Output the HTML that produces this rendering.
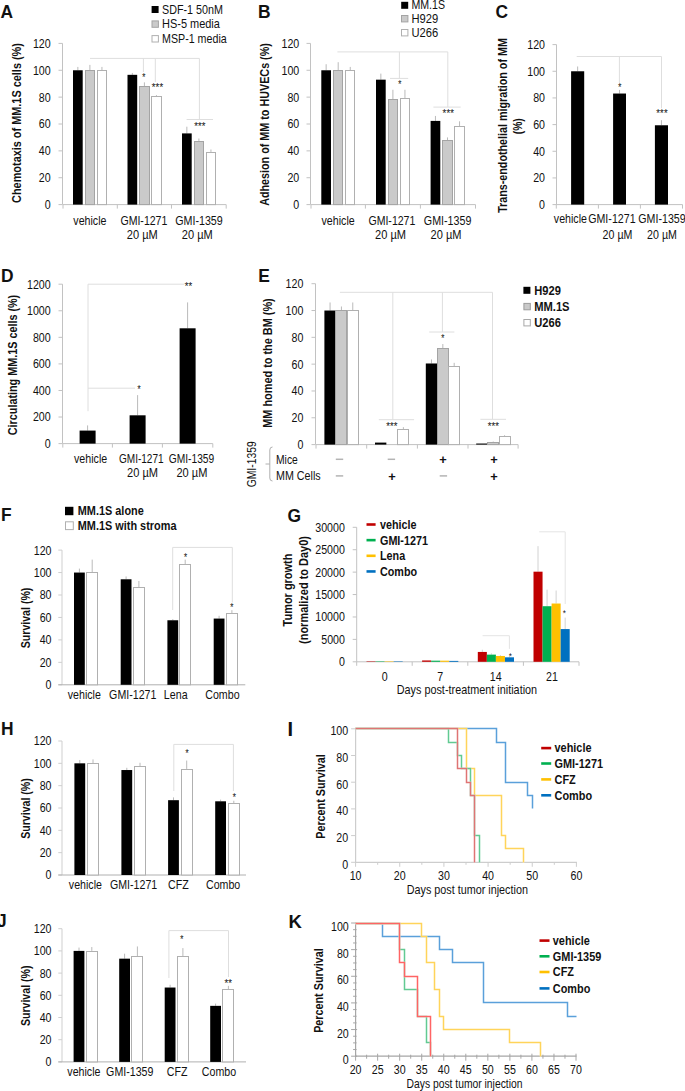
<!DOCTYPE html>
<html lang="en"><head><meta charset="utf-8"><title>Figure</title>
<style>
html,body{margin:0;padding:0;background:#fff;}
svg{display:block;font-family:"Liberation Sans",sans-serif;opacity:0.999;}
text{fill:#111;}
</style></head><body>
<svg width="685" height="1091" viewBox="0 0 685 1091">
<rect width="685" height="1091" fill="#fff"/>
<!-- panelA -->
<text transform="translate(0.50 18.20) scale(0.9400 1)" font-size="18.5" font-weight="bold" fill="#000">A</text>
<line x1="62.50" y1="43.40" x2="62.50" y2="204.60" stroke="#c2c2c2" stroke-width="1"/>
<line x1="58.50" y1="204.60" x2="62.50" y2="204.60" stroke="#c2c2c2" stroke-width="1"/>
<text transform="translate(50.70 209.00) scale(0.8200 1)" font-size="13" text-anchor="end">0</text>
<line x1="58.50" y1="177.73" x2="62.50" y2="177.73" stroke="#c2c2c2" stroke-width="1"/>
<text transform="translate(50.70 182.13) scale(0.8200 1)" font-size="13" text-anchor="end">20</text>
<line x1="58.50" y1="150.87" x2="62.50" y2="150.87" stroke="#c2c2c2" stroke-width="1"/>
<text transform="translate(50.70 155.27) scale(0.8200 1)" font-size="13" text-anchor="end">40</text>
<line x1="58.50" y1="124.00" x2="62.50" y2="124.00" stroke="#c2c2c2" stroke-width="1"/>
<text transform="translate(50.70 128.40) scale(0.8200 1)" font-size="13" text-anchor="end">60</text>
<line x1="58.50" y1="97.13" x2="62.50" y2="97.13" stroke="#c2c2c2" stroke-width="1"/>
<text transform="translate(50.70 101.53) scale(0.8200 1)" font-size="13" text-anchor="end">80</text>
<line x1="58.50" y1="70.27" x2="62.50" y2="70.27" stroke="#c2c2c2" stroke-width="1"/>
<text transform="translate(50.70 74.67) scale(0.8200 1)" font-size="13" text-anchor="end">100</text>
<line x1="58.50" y1="43.40" x2="62.50" y2="43.40" stroke="#c2c2c2" stroke-width="1"/>
<text transform="translate(50.70 47.80) scale(0.8200 1)" font-size="13" text-anchor="end">120</text>
<line x1="63.00" y1="204.60" x2="226.20" y2="204.60" stroke="#c2c2c2" stroke-width="1"/>
<line x1="63.00" y1="204.60" x2="63.00" y2="208.60" stroke="#c2c2c2" stroke-width="1"/>
<line x1="117.30" y1="204.60" x2="117.30" y2="208.60" stroke="#c2c2c2" stroke-width="1"/>
<line x1="171.50" y1="204.60" x2="171.50" y2="208.60" stroke="#c2c2c2" stroke-width="1"/>
<line x1="226.20" y1="204.60" x2="226.20" y2="208.60" stroke="#c2c2c2" stroke-width="1"/>
<line x1="90.00" y1="58.40" x2="199.40" y2="58.40" stroke="#dedede" stroke-width="1"/>
<line x1="143.40" y1="58.40" x2="143.40" y2="72.00" stroke="#dedede" stroke-width="1"/>
<line x1="155.30" y1="58.40" x2="155.30" y2="82.00" stroke="#dedede" stroke-width="1"/>
<line x1="199.40" y1="58.40" x2="199.40" y2="119.50" stroke="#dedede" stroke-width="1"/>
<line x1="186.60" y1="119.50" x2="213.00" y2="119.50" stroke="#dedede" stroke-width="1"/>
<line x1="77.85" y1="66.91" x2="77.85" y2="70.27" stroke="#bababa" stroke-width="1"/>
<rect x="73.00" y="70.27" width="9.70" height="134.33" fill="#000"/>
<line x1="89.90" y1="64.89" x2="89.90" y2="70.27" stroke="#bababa" stroke-width="1"/>
<rect x="85.50" y="70.50" width="9.00" height="134.10" fill="#cacaca" stroke="#a4a4a4" stroke-width="1"/>
<line x1="101.95" y1="66.91" x2="101.95" y2="70.27" stroke="#bababa" stroke-width="1"/>
<rect x="97.50" y="70.50" width="9.00" height="134.10" fill="#fff" stroke="#b0b0b0" stroke-width="1"/>
<line x1="132.35" y1="72.95" x2="132.35" y2="74.83" stroke="#bababa" stroke-width="1"/>
<rect x="127.50" y="74.83" width="9.70" height="129.77" fill="#000"/>
<line x1="144.40" y1="82.36" x2="144.40" y2="86.39" stroke="#bababa" stroke-width="1"/>
<rect x="139.50" y="86.50" width="10.00" height="118.10" fill="#cacaca" stroke="#a4a4a4" stroke-width="1"/>
<line x1="156.45" y1="95.12" x2="156.45" y2="96.46" stroke="#bababa" stroke-width="1"/>
<rect x="151.50" y="96.50" width="10.00" height="108.10" fill="#fff" stroke="#b0b0b0" stroke-width="1"/>
<line x1="186.85" y1="126.69" x2="186.85" y2="133.40" stroke="#bababa" stroke-width="1"/>
<rect x="182.00" y="133.40" width="9.70" height="71.20" fill="#000"/>
<line x1="198.90" y1="138.51" x2="198.90" y2="140.93" stroke="#bababa" stroke-width="1"/>
<rect x="194.50" y="141.50" width="9.00" height="63.10" fill="#cacaca" stroke="#a4a4a4" stroke-width="1"/>
<line x1="210.95" y1="149.52" x2="210.95" y2="151.94" stroke="#bababa" stroke-width="1"/>
<rect x="206.50" y="152.50" width="9.00" height="52.10" fill="#fff" stroke="#b0b0b0" stroke-width="1"/>
<text transform="translate(143.40 80.90) scale(0.8600 1)" font-size="10" text-anchor="middle" font-style="italic" fill="#222">*</text>
<text transform="translate(157.00 90.90) scale(0.9800 1)" font-size="10" text-anchor="middle" font-style="italic" fill="#222">***</text>
<text transform="translate(199.40 129.90) scale(0.9800 1)" font-size="10" text-anchor="middle" font-style="italic" fill="#222">***</text>
<rect x="151.60" y="6.00" width="7.00" height="7.00" fill="#000"/>
<rect x="152.00" y="20.90" width="6.40" height="6.40" fill="#cacaca" stroke="#a4a4a4" stroke-width="1"/>
<rect x="152.00" y="35.60" width="6.40" height="6.40" fill="#fff" stroke="#b0b0b0" stroke-width="1"/>
<text transform="translate(162.00 13.80) scale(0.8278 1)" font-size="13">SDF-1 50nM</text>
<text transform="translate(162.00 28.40) scale(0.8450 1)" font-size="13">HS-5 media</text>
<text transform="translate(162.00 43.20) scale(0.8228 1)" font-size="13">MSP-1 media</text>
<text transform="translate(21.40 123.00) rotate(-90) scale(0.8725 1)" font-size="12.5" text-anchor="middle" font-weight="bold">Chemotaxis of MM.1S cells (%)</text>
<text transform="translate(89.90 224.90) scale(0.8200 1)" font-size="13" text-anchor="middle">vehicle</text>
<text transform="translate(143.90 224.90) scale(0.8131 1)" font-size="13" text-anchor="middle">GMI-1271</text>
<text transform="translate(199.00 224.90) scale(0.8235 1)" font-size="13" text-anchor="middle">GMI-1359</text>
<text transform="translate(142.30 239.30) scale(0.8518 1)" font-size="13" text-anchor="middle">20 µM</text>
<text transform="translate(197.30 239.30) scale(0.8518 1)" font-size="13" text-anchor="middle">20 µM</text>
<!-- panelB -->
<text transform="translate(258.00 18.20) scale(0.9400 1)" font-size="18.5" font-weight="bold" fill="#000">B</text>
<line x1="310.50" y1="43.40" x2="310.50" y2="204.60" stroke="#c2c2c2" stroke-width="1"/>
<line x1="306.50" y1="204.60" x2="310.50" y2="204.60" stroke="#c2c2c2" stroke-width="1"/>
<text transform="translate(299.30 209.00) scale(0.8200 1)" font-size="13" text-anchor="end">0</text>
<line x1="306.50" y1="177.73" x2="310.50" y2="177.73" stroke="#c2c2c2" stroke-width="1"/>
<text transform="translate(299.30 182.13) scale(0.8200 1)" font-size="13" text-anchor="end">20</text>
<line x1="306.50" y1="150.87" x2="310.50" y2="150.87" stroke="#c2c2c2" stroke-width="1"/>
<text transform="translate(299.30 155.27) scale(0.8200 1)" font-size="13" text-anchor="end">40</text>
<line x1="306.50" y1="124.00" x2="310.50" y2="124.00" stroke="#c2c2c2" stroke-width="1"/>
<text transform="translate(299.30 128.40) scale(0.8200 1)" font-size="13" text-anchor="end">60</text>
<line x1="306.50" y1="97.13" x2="310.50" y2="97.13" stroke="#c2c2c2" stroke-width="1"/>
<text transform="translate(299.30 101.53) scale(0.8200 1)" font-size="13" text-anchor="end">80</text>
<line x1="306.50" y1="70.27" x2="310.50" y2="70.27" stroke="#c2c2c2" stroke-width="1"/>
<text transform="translate(299.30 74.67) scale(0.8200 1)" font-size="13" text-anchor="end">100</text>
<line x1="306.50" y1="43.40" x2="310.50" y2="43.40" stroke="#c2c2c2" stroke-width="1"/>
<text transform="translate(299.30 47.80) scale(0.8200 1)" font-size="13" text-anchor="end">120</text>
<line x1="311.00" y1="204.60" x2="475.50" y2="204.60" stroke="#c2c2c2" stroke-width="1"/>
<line x1="311.00" y1="204.60" x2="311.00" y2="208.60" stroke="#c2c2c2" stroke-width="1"/>
<line x1="365.40" y1="204.60" x2="365.40" y2="208.60" stroke="#c2c2c2" stroke-width="1"/>
<line x1="420.40" y1="204.60" x2="420.40" y2="208.60" stroke="#c2c2c2" stroke-width="1"/>
<line x1="475.50" y1="204.60" x2="475.50" y2="208.60" stroke="#c2c2c2" stroke-width="1"/>
<line x1="337.40" y1="51.90" x2="447.80" y2="51.90" stroke="#dedede" stroke-width="1"/>
<line x1="399.40" y1="51.90" x2="399.40" y2="78.40" stroke="#dedede" stroke-width="1"/>
<line x1="390.00" y1="78.40" x2="408.20" y2="78.40" stroke="#dedede" stroke-width="1"/>
<line x1="447.80" y1="51.90" x2="447.80" y2="107.10" stroke="#dedede" stroke-width="1"/>
<line x1="433.40" y1="107.10" x2="460.70" y2="107.10" stroke="#dedede" stroke-width="1"/>
<line x1="326.15" y1="64.22" x2="326.15" y2="70.27" stroke="#bababa" stroke-width="1"/>
<rect x="321.30" y="70.27" width="9.70" height="134.33" fill="#000"/>
<line x1="338.20" y1="62.21" x2="338.20" y2="70.27" stroke="#bababa" stroke-width="1"/>
<rect x="333.50" y="70.50" width="9.00" height="134.10" fill="#cacaca" stroke="#a4a4a4" stroke-width="1"/>
<line x1="350.25" y1="66.91" x2="350.25" y2="70.27" stroke="#bababa" stroke-width="1"/>
<rect x="345.50" y="70.50" width="9.00" height="134.10" fill="#fff" stroke="#b0b0b0" stroke-width="1"/>
<line x1="380.85" y1="73.62" x2="380.85" y2="79.67" stroke="#bababa" stroke-width="1"/>
<rect x="376.00" y="79.67" width="9.70" height="124.93" fill="#000"/>
<line x1="392.90" y1="89.75" x2="392.90" y2="99.55" stroke="#bababa" stroke-width="1"/>
<rect x="388.50" y="99.50" width="9.00" height="105.10" fill="#cacaca" stroke="#a4a4a4" stroke-width="1"/>
<line x1="404.95" y1="89.75" x2="404.95" y2="98.21" stroke="#bababa" stroke-width="1"/>
<rect x="400.50" y="98.50" width="9.00" height="106.10" fill="#fff" stroke="#b0b0b0" stroke-width="1"/>
<line x1="435.45" y1="115.94" x2="435.45" y2="120.91" stroke="#bababa" stroke-width="1"/>
<rect x="430.60" y="120.91" width="9.70" height="83.69" fill="#000"/>
<line x1="447.50" y1="137.43" x2="447.50" y2="140.39" stroke="#bababa" stroke-width="1"/>
<rect x="442.50" y="140.50" width="10.00" height="64.10" fill="#cacaca" stroke="#a4a4a4" stroke-width="1"/>
<line x1="459.55" y1="121.31" x2="459.55" y2="126.15" stroke="#bababa" stroke-width="1"/>
<rect x="454.50" y="126.50" width="10.00" height="78.10" fill="#fff" stroke="#b0b0b0" stroke-width="1"/>
<text transform="translate(399.40 87.90) scale(0.8600 1)" font-size="10" text-anchor="middle" font-style="italic" fill="#222">*</text>
<text transform="translate(447.80 117.40) scale(0.9800 1)" font-size="10" text-anchor="middle" font-style="italic" fill="#222">***</text>
<rect x="401.20" y="1.80" width="7.00" height="7.00" fill="#000"/>
<rect x="401.50" y="15.50" width="6.40" height="6.40" fill="#cacaca" stroke="#a4a4a4" stroke-width="1"/>
<rect x="401.50" y="29.50" width="6.40" height="6.40" fill="#fff" stroke="#b0b0b0" stroke-width="1"/>
<text transform="translate(411.40 9.20) scale(0.7859 1)" font-size="13.5">MM.1S</text>
<text transform="translate(411.40 23.40) scale(0.8300 1)" font-size="13.5">H929</text>
<text transform="translate(411.40 37.10) scale(0.8300 1)" font-size="13.5">U266</text>
<text transform="translate(269.30 124.50) rotate(-90) scale(0.8630 1)" font-size="12.5" text-anchor="middle" font-weight="bold">Adhesion of MM to HUVECs (%)</text>
<text transform="translate(338.10 224.70) scale(0.8200 1)" font-size="13" text-anchor="middle">vehicle</text>
<text transform="translate(391.90 224.70) scale(0.8131 1)" font-size="13" text-anchor="middle">GMI-1271</text>
<text transform="translate(447.60 224.70) scale(0.8235 1)" font-size="13" text-anchor="middle">GMI-1359</text>
<text transform="translate(390.60 238.80) scale(0.8518 1)" font-size="13" text-anchor="middle">20 µM</text>
<text transform="translate(446.10 238.80) scale(0.8518 1)" font-size="13" text-anchor="middle">20 µM</text>
<!-- panelC -->
<text transform="translate(495.50 18.20) scale(0.9400 1)" font-size="18.5" font-weight="bold" fill="#000">C</text>
<line x1="556.50" y1="44.60" x2="556.50" y2="204.60" stroke="#c2c2c2" stroke-width="1"/>
<line x1="552.50" y1="204.60" x2="556.50" y2="204.60" stroke="#c2c2c2" stroke-width="1"/>
<text transform="translate(545.00 209.00) scale(0.8200 1)" font-size="13" text-anchor="end">0</text>
<line x1="552.50" y1="177.93" x2="556.50" y2="177.93" stroke="#c2c2c2" stroke-width="1"/>
<text transform="translate(545.00 182.33) scale(0.8200 1)" font-size="13" text-anchor="end">20</text>
<line x1="552.50" y1="151.27" x2="556.50" y2="151.27" stroke="#c2c2c2" stroke-width="1"/>
<text transform="translate(545.00 155.67) scale(0.8200 1)" font-size="13" text-anchor="end">40</text>
<line x1="552.50" y1="124.60" x2="556.50" y2="124.60" stroke="#c2c2c2" stroke-width="1"/>
<text transform="translate(545.00 129.00) scale(0.8200 1)" font-size="13" text-anchor="end">60</text>
<line x1="552.50" y1="97.93" x2="556.50" y2="97.93" stroke="#c2c2c2" stroke-width="1"/>
<text transform="translate(545.00 102.33) scale(0.8200 1)" font-size="13" text-anchor="end">80</text>
<line x1="552.50" y1="71.27" x2="556.50" y2="71.27" stroke="#c2c2c2" stroke-width="1"/>
<text transform="translate(545.00 75.67) scale(0.8200 1)" font-size="13" text-anchor="end">100</text>
<line x1="552.50" y1="44.60" x2="556.50" y2="44.60" stroke="#c2c2c2" stroke-width="1"/>
<text transform="translate(545.00 49.00) scale(0.8200 1)" font-size="13" text-anchor="end">120</text>
<line x1="556.30" y1="204.60" x2="682.50" y2="204.60" stroke="#c2c2c2" stroke-width="1"/>
<line x1="556.30" y1="204.60" x2="556.30" y2="208.60" stroke="#c2c2c2" stroke-width="1"/>
<line x1="598.40" y1="204.60" x2="598.40" y2="208.60" stroke="#c2c2c2" stroke-width="1"/>
<line x1="640.40" y1="204.60" x2="640.40" y2="208.60" stroke="#c2c2c2" stroke-width="1"/>
<line x1="682.50" y1="204.60" x2="682.50" y2="208.60" stroke="#c2c2c2" stroke-width="1"/>
<line x1="576.70" y1="56.50" x2="661.50" y2="56.50" stroke="#dedede" stroke-width="1"/>
<line x1="619.40" y1="56.50" x2="619.40" y2="83.20" stroke="#dedede" stroke-width="1"/>
<line x1="661.50" y1="56.50" x2="661.50" y2="108.30" stroke="#dedede" stroke-width="1"/>
<line x1="577.65" y1="66.47" x2="577.65" y2="71.27" stroke="#bababa" stroke-width="1"/>
<rect x="571.10" y="71.27" width="13.10" height="133.33" fill="#000"/>
<line x1="619.55" y1="89.93" x2="619.55" y2="93.53" stroke="#bababa" stroke-width="1"/>
<rect x="613.10" y="93.53" width="12.90" height="111.07" fill="#000"/>
<line x1="661.45" y1="120.20" x2="661.45" y2="125.27" stroke="#bababa" stroke-width="1"/>
<rect x="654.90" y="125.27" width="13.10" height="79.33" fill="#000"/>
<text transform="translate(619.40 90.90) scale(0.8600 1)" font-size="10" text-anchor="middle" font-style="italic" fill="#222">*</text>
<text transform="translate(661.50 117.40) scale(0.9800 1)" font-size="10" text-anchor="middle" font-style="italic" fill="#222">***</text>
<text transform="translate(507.20 125.50) rotate(-90) scale(0.8600 1)" font-size="12.5" text-anchor="middle" font-weight="bold">Trans-endothelial migration of MM</text>
<text transform="translate(522.30 126.20) rotate(-90) scale(0.8200 1)" font-size="12.5" text-anchor="middle" font-weight="bold">(%)</text>
<text transform="translate(570.40 222.50) scale(0.8200 1)" font-size="13" text-anchor="middle">vehicle</text>
<text transform="translate(611.90 222.50) scale(0.8200 1)" font-size="13" text-anchor="middle">GMI-1271</text>
<text transform="translate(662.00 222.50) scale(0.8200 1)" font-size="13" text-anchor="middle">GMI-1359</text>
<text transform="translate(617.50 238.50) scale(0.8200 1)" font-size="13" text-anchor="middle">20 µM</text>
<text transform="translate(662.00 238.50) scale(0.8200 1)" font-size="13" text-anchor="middle">20 µM</text>
<!-- panelD -->
<text transform="translate(1.00 282.40) scale(0.9400 1)" font-size="18.5" font-weight="bold" fill="#000">D</text>
<line x1="62.50" y1="284.20" x2="62.50" y2="443.60" stroke="#c2c2c2" stroke-width="1"/>
<line x1="58.50" y1="443.60" x2="62.50" y2="443.60" stroke="#c2c2c2" stroke-width="1"/>
<text transform="translate(50.70 448.00) scale(0.8200 1)" font-size="13" text-anchor="end">0</text>
<line x1="58.50" y1="417.03" x2="62.50" y2="417.03" stroke="#c2c2c2" stroke-width="1"/>
<text transform="translate(50.70 421.43) scale(0.8200 1)" font-size="13" text-anchor="end">200</text>
<line x1="58.50" y1="390.47" x2="62.50" y2="390.47" stroke="#c2c2c2" stroke-width="1"/>
<text transform="translate(50.70 394.87) scale(0.8200 1)" font-size="13" text-anchor="end">400</text>
<line x1="58.50" y1="363.90" x2="62.50" y2="363.90" stroke="#c2c2c2" stroke-width="1"/>
<text transform="translate(50.70 368.30) scale(0.8200 1)" font-size="13" text-anchor="end">600</text>
<line x1="58.50" y1="337.33" x2="62.50" y2="337.33" stroke="#c2c2c2" stroke-width="1"/>
<text transform="translate(50.70 341.73) scale(0.8200 1)" font-size="13" text-anchor="end">800</text>
<line x1="58.50" y1="310.77" x2="62.50" y2="310.77" stroke="#c2c2c2" stroke-width="1"/>
<text transform="translate(50.70 315.17) scale(0.8200 1)" font-size="13" text-anchor="end">1000</text>
<line x1="58.50" y1="284.20" x2="62.50" y2="284.20" stroke="#c2c2c2" stroke-width="1"/>
<text transform="translate(50.70 288.60) scale(0.8200 1)" font-size="13" text-anchor="end">1200</text>
<line x1="62.80" y1="443.60" x2="212.80" y2="443.60" stroke="#c2c2c2" stroke-width="1"/>
<line x1="62.80" y1="443.60" x2="62.80" y2="447.60" stroke="#c2c2c2" stroke-width="1"/>
<line x1="112.40" y1="443.60" x2="112.40" y2="447.60" stroke="#c2c2c2" stroke-width="1"/>
<line x1="162.40" y1="443.60" x2="162.40" y2="447.60" stroke="#c2c2c2" stroke-width="1"/>
<line x1="212.80" y1="443.60" x2="212.80" y2="447.60" stroke="#c2c2c2" stroke-width="1"/>
<line x1="88.00" y1="284.20" x2="88.00" y2="411.20" stroke="#dedede" stroke-width="1"/>
<line x1="88.00" y1="284.20" x2="184.30" y2="284.20" stroke="#dedede" stroke-width="1"/>
<line x1="88.00" y1="388.20" x2="135.00" y2="388.20" stroke="#dedede" stroke-width="1"/>
<line x1="87.60" y1="425.40" x2="87.60" y2="430.58" stroke="#bababa" stroke-width="1"/>
<rect x="79.60" y="430.58" width="16.00" height="13.02" fill="#000"/>
<line x1="137.60" y1="395.12" x2="137.60" y2="415.31" stroke="#bababa" stroke-width="1"/>
<rect x="129.60" y="415.31" width="16.00" height="28.29" fill="#000"/>
<line x1="187.60" y1="302.40" x2="187.60" y2="328.30" stroke="#bababa" stroke-width="1"/>
<rect x="179.60" y="328.30" width="16.00" height="115.30" fill="#000"/>
<text transform="translate(138.70 393.40) scale(0.8600 1)" font-size="10" text-anchor="middle" font-style="italic" fill="#222">*</text>
<text transform="translate(188.00 290.40) scale(0.9800 1)" font-size="10" text-anchor="middle" font-style="italic" fill="#222">**</text>
<text transform="translate(17.00 365.00) rotate(-90) scale(0.8651 1)" font-size="12.5" text-anchor="middle" font-weight="bold">Circulating MM.1S cells (%)</text>
<text transform="translate(90.60 462.80) scale(0.8200 1)" font-size="13" text-anchor="middle">vehicle</text>
<text transform="translate(141.30 462.80) scale(0.7733 1)" font-size="13" text-anchor="middle">GMI-1271</text>
<text transform="translate(191.50 462.80) scale(0.7889 1)" font-size="13" text-anchor="middle">GMI-1359</text>
<text transform="translate(142.50 477.20) scale(0.8518 1)" font-size="13" text-anchor="middle">20 µM</text>
<text transform="translate(191.90 477.20) scale(0.8518 1)" font-size="13" text-anchor="middle">20 µM</text>
<!-- panelE -->
<text transform="translate(258.20 282.30) scale(0.9400 1)" font-size="18.5" font-weight="bold" fill="#000">E</text>
<line x1="315.50" y1="283.70" x2="315.50" y2="444.60" stroke="#c2c2c2" stroke-width="1"/>
<line x1="311.50" y1="444.60" x2="315.50" y2="444.60" stroke="#c2c2c2" stroke-width="1"/>
<text transform="translate(303.40 449.00) scale(0.8200 1)" font-size="13" text-anchor="end">0</text>
<line x1="311.50" y1="417.78" x2="315.50" y2="417.78" stroke="#c2c2c2" stroke-width="1"/>
<text transform="translate(303.40 422.18) scale(0.8200 1)" font-size="13" text-anchor="end">20</text>
<line x1="311.50" y1="390.97" x2="315.50" y2="390.97" stroke="#c2c2c2" stroke-width="1"/>
<text transform="translate(303.40 395.37) scale(0.8200 1)" font-size="13" text-anchor="end">40</text>
<line x1="311.50" y1="364.15" x2="315.50" y2="364.15" stroke="#c2c2c2" stroke-width="1"/>
<text transform="translate(303.40 368.55) scale(0.8200 1)" font-size="13" text-anchor="end">60</text>
<line x1="311.50" y1="337.33" x2="315.50" y2="337.33" stroke="#c2c2c2" stroke-width="1"/>
<text transform="translate(303.40 341.73) scale(0.8200 1)" font-size="13" text-anchor="end">80</text>
<line x1="311.50" y1="310.52" x2="315.50" y2="310.52" stroke="#c2c2c2" stroke-width="1"/>
<text transform="translate(303.40 314.92) scale(0.8200 1)" font-size="13" text-anchor="end">100</text>
<line x1="311.50" y1="283.70" x2="315.50" y2="283.70" stroke="#c2c2c2" stroke-width="1"/>
<text transform="translate(303.40 288.10) scale(0.8200 1)" font-size="13" text-anchor="end">120</text>
<line x1="316.00" y1="444.60" x2="518.10" y2="444.60" stroke="#c2c2c2" stroke-width="1"/>
<line x1="316.00" y1="444.60" x2="316.00" y2="448.60" stroke="#c2c2c2" stroke-width="1"/>
<line x1="366.70" y1="444.60" x2="366.70" y2="448.60" stroke="#c2c2c2" stroke-width="1"/>
<line x1="417.40" y1="444.60" x2="417.40" y2="448.60" stroke="#c2c2c2" stroke-width="1"/>
<line x1="468.00" y1="444.60" x2="468.00" y2="448.60" stroke="#c2c2c2" stroke-width="1"/>
<line x1="518.10" y1="444.60" x2="518.10" y2="448.60" stroke="#c2c2c2" stroke-width="1"/>
<line x1="339.90" y1="292.30" x2="492.50" y2="292.30" stroke="#dedede" stroke-width="1"/>
<line x1="392.80" y1="292.30" x2="392.80" y2="419.70" stroke="#dedede" stroke-width="1"/>
<line x1="378.80" y1="419.70" x2="414.10" y2="419.70" stroke="#dedede" stroke-width="1"/>
<line x1="442.40" y1="292.30" x2="442.40" y2="332.00" stroke="#dedede" stroke-width="1"/>
<line x1="429.20" y1="332.00" x2="454.40" y2="332.00" stroke="#dedede" stroke-width="1"/>
<line x1="492.50" y1="292.30" x2="492.50" y2="419.30" stroke="#dedede" stroke-width="1"/>
<line x1="480.40" y1="419.30" x2="506.00" y2="419.30" stroke="#dedede" stroke-width="1"/>
<line x1="330.07" y1="302.47" x2="330.07" y2="310.52" stroke="#bababa" stroke-width="1"/>
<rect x="324.40" y="310.52" width="11.35" height="134.08" fill="#000"/>
<line x1="341.43" y1="306.49" x2="341.43" y2="310.52" stroke="#bababa" stroke-width="1"/>
<rect x="335.50" y="310.50" width="11.00" height="134.10" fill="#cacaca" stroke="#a4a4a4" stroke-width="1"/>
<line x1="352.77" y1="302.47" x2="352.77" y2="310.52" stroke="#bababa" stroke-width="1"/>
<rect x="347.50" y="310.50" width="11.00" height="134.10" fill="#fff" stroke="#b0b0b0" stroke-width="1"/>
<rect x="375.00" y="442.59" width="11.35" height="2.01" fill="#000"/>
<line x1="403.38" y1="427.17" x2="403.38" y2="429.85" stroke="#bababa" stroke-width="1"/>
<rect x="397.50" y="429.50" width="11.00" height="15.10" fill="#fff" stroke="#b0b0b0" stroke-width="1"/>
<line x1="431.48" y1="359.46" x2="431.48" y2="363.48" stroke="#bababa" stroke-width="1"/>
<rect x="425.80" y="363.48" width="11.35" height="81.12" fill="#000"/>
<line x1="442.83" y1="344.04" x2="442.83" y2="348.06" stroke="#bababa" stroke-width="1"/>
<rect x="437.50" y="348.50" width="11.00" height="96.10" fill="#cacaca" stroke="#a4a4a4" stroke-width="1"/>
<line x1="454.18" y1="362.81" x2="454.18" y2="366.83" stroke="#bababa" stroke-width="1"/>
<rect x="448.50" y="366.50" width="11.00" height="78.10" fill="#fff" stroke="#b0b0b0" stroke-width="1"/>
<rect x="476.20" y="443.53" width="11.35" height="1.07" fill="#000"/>
<line x1="493.23" y1="441.52" x2="493.23" y2="442.19" stroke="#bababa" stroke-width="1"/>
<rect x="487.50" y="442.50" width="11.00" height="2.10" fill="#cacaca" stroke="#a4a4a4" stroke-width="1"/>
<line x1="504.57" y1="435.21" x2="504.57" y2="436.56" stroke="#bababa" stroke-width="1"/>
<rect x="499.50" y="436.50" width="11.00" height="8.10" fill="#fff" stroke="#b0b0b0" stroke-width="1"/>
<text transform="translate(391.40 429.90) scale(0.9800 1)" font-size="10" text-anchor="middle" font-style="italic" fill="#222">***</text>
<text transform="translate(442.50 341.90) scale(0.8600 1)" font-size="10" text-anchor="middle" font-style="italic" fill="#222">*</text>
<text transform="translate(492.90 429.90) scale(0.9800 1)" font-size="10" text-anchor="middle" font-style="italic" fill="#222">***</text>
<rect x="523.40" y="286.80" width="7.00" height="7.00" fill="#000"/>
<rect x="523.90" y="303.40" width="6.40" height="6.40" fill="#c9c9c9" stroke="#9c9c9c" stroke-width="1"/>
<rect x="523.90" y="319.50" width="6.40" height="6.40" fill="#fff" stroke="#a8a8a8" stroke-width="1"/>
<text transform="translate(534.20 294.80) scale(0.8600 1)" font-size="13" font-weight="bold">H929</text>
<text transform="translate(534.20 311.00) scale(0.8600 1)" font-size="13" font-weight="bold">MM.1S</text>
<text transform="translate(534.20 327.20) scale(0.8600 1)" font-size="13" font-weight="bold">U266</text>
<text transform="translate(272.00 363.00) rotate(-90) scale(0.8380 1)" font-size="13" text-anchor="middle" font-weight="bold">MM homed to the BM (%)</text>
<text transform="translate(276.00 464.00) scale(0.7942 1)" font-size="13">Mice</text>
<text transform="translate(276.00 480.20) scale(0.8252 1)" font-size="13">MM Cells</text>
<text transform="translate(256.30 464.30) rotate(-90) scale(0.7958 1)" font-size="13" text-anchor="middle">GMI-1359</text>
<path d="M272.5 447 Q269.8 447 269.8 450 L269.8 478 Q269.8 481 272.5 481 M269.8 464 L265.5 464" fill="none" stroke="#b0b0b0" stroke-width="1"/>
<line x1="335.80" y1="459.30" x2="343.20" y2="459.30" stroke="#b4b4b4" stroke-width="1.5"/>
<line x1="335.80" y1="475.90" x2="343.20" y2="475.90" stroke="#b4b4b4" stroke-width="1.5"/>
<line x1="387.70" y1="459.30" x2="395.10" y2="459.30" stroke="#b4b4b4" stroke-width="1.5"/>
<text transform="translate(392.00 481.10) scale(0.9500 1)" font-size="13.5" text-anchor="middle" font-weight="bold" fill="#000">+</text>
<text transform="translate(443.10 463.90) scale(0.9500 1)" font-size="13.5" text-anchor="middle" font-weight="bold" fill="#000">+</text>
<line x1="439.70" y1="475.90" x2="447.10" y2="475.90" stroke="#b4b4b4" stroke-width="1.5"/>
<text transform="translate(494.10 463.90) scale(0.9500 1)" font-size="13.5" text-anchor="middle" font-weight="bold" fill="#000">+</text>
<text transform="translate(494.10 481.10) scale(0.9500 1)" font-size="13.5" text-anchor="middle" font-weight="bold" fill="#000">+</text>
<!-- panelF -->
<rect x="65.00" y="506.80" width="8.40" height="8.40" fill="#000"/>
<rect x="65.50" y="521.80" width="7.80" height="7.80" fill="#fff" stroke="#b0b0b0" stroke-width="1"/>
<text transform="translate(77.80 514.60) scale(0.8717 1)" font-size="12.5" font-weight="bold">MM.1S alone</text>
<text transform="translate(77.80 529.80) scale(0.8718 1)" font-size="12.5" font-weight="bold">MM.1S with stroma</text>
<text transform="translate(0.90 520.90) scale(0.9400 1)" font-size="18.5" font-weight="bold" fill="#000">F</text>
<line x1="62.00" y1="550.10" x2="62.00" y2="684.80" stroke="#cfcfcf" stroke-width="1"/>
<line x1="58.30" y1="684.80" x2="62.00" y2="684.80" stroke="#cfcfcf" stroke-width="1"/>
<text transform="translate(51.50 689.20) scale(0.8200 1)" font-size="13" text-anchor="end">0</text>
<line x1="58.30" y1="662.35" x2="62.00" y2="662.35" stroke="#cfcfcf" stroke-width="1"/>
<text transform="translate(51.50 666.75) scale(0.8200 1)" font-size="13" text-anchor="end">20</text>
<line x1="58.30" y1="639.90" x2="62.00" y2="639.90" stroke="#cfcfcf" stroke-width="1"/>
<text transform="translate(51.50 644.30) scale(0.8200 1)" font-size="13" text-anchor="end">40</text>
<line x1="58.30" y1="617.45" x2="62.00" y2="617.45" stroke="#cfcfcf" stroke-width="1"/>
<text transform="translate(51.50 621.85) scale(0.8200 1)" font-size="13" text-anchor="end">60</text>
<line x1="58.30" y1="595.00" x2="62.00" y2="595.00" stroke="#cfcfcf" stroke-width="1"/>
<text transform="translate(51.50 599.40) scale(0.8200 1)" font-size="13" text-anchor="end">80</text>
<line x1="58.30" y1="572.55" x2="62.00" y2="572.55" stroke="#cfcfcf" stroke-width="1"/>
<text transform="translate(51.50 576.95) scale(0.8200 1)" font-size="13" text-anchor="end">100</text>
<line x1="58.30" y1="550.10" x2="62.00" y2="550.10" stroke="#cfcfcf" stroke-width="1"/>
<text transform="translate(51.50 554.50) scale(0.8200 1)" font-size="13" text-anchor="end">120</text>
<line x1="58.30" y1="684.80" x2="245.30" y2="684.80" stroke="#b0b0b0" stroke-width="1"/>
<path d="M172.70 610.00 L172.70 547.40 L232.30 547.40 L232.30 602.50" fill="none" stroke="#dedede" stroke-width="1"/>
<line x1="79.40" y1="568.62" x2="79.40" y2="572.55" stroke="#bababa" stroke-width="1"/>
<rect x="74.00" y="572.55" width="10.80" height="112.25" fill="#000"/>
<line x1="92.20" y1="559.64" x2="92.20" y2="572.55" stroke="#bababa" stroke-width="1"/>
<rect x="86.50" y="572.50" width="11.00" height="112.30" fill="#fff" stroke="#b0b0b0" stroke-width="1"/>
<line x1="126.10" y1="576.48" x2="126.10" y2="579.28" stroke="#bababa" stroke-width="1"/>
<rect x="120.70" y="579.28" width="10.80" height="105.51" fill="#000"/>
<line x1="138.90" y1="580.97" x2="138.90" y2="587.14" stroke="#bababa" stroke-width="1"/>
<rect x="133.50" y="587.50" width="11.00" height="97.30" fill="#fff" stroke="#b0b0b0" stroke-width="1"/>
<line x1="172.80" y1="619.13" x2="172.80" y2="620.26" stroke="#bababa" stroke-width="1"/>
<rect x="167.40" y="620.26" width="10.80" height="64.54" fill="#000"/>
<line x1="185.20" y1="559.64" x2="185.20" y2="564.69" stroke="#bababa" stroke-width="1"/>
<rect x="179.50" y="564.50" width="11.00" height="120.30" fill="#fff" stroke="#b0b0b0" stroke-width="1"/>
<line x1="219.10" y1="615.77" x2="219.10" y2="618.57" stroke="#bababa" stroke-width="1"/>
<rect x="213.70" y="618.57" width="10.80" height="66.23" fill="#000"/>
<line x1="231.90" y1="610.15" x2="231.90" y2="613.52" stroke="#bababa" stroke-width="1"/>
<rect x="226.50" y="613.50" width="11.00" height="71.30" fill="#fff" stroke="#b0b0b0" stroke-width="1"/>
<text transform="translate(185.20 560.70) scale(0.8600 1)" font-size="10" text-anchor="middle" font-style="italic" fill="#222">*</text>
<text transform="translate(231.50 611.40) scale(0.8600 1)" font-size="10" text-anchor="middle" font-style="italic" fill="#222">*</text>
<text transform="translate(30.00 617.95) rotate(-90) scale(0.8483 1)" font-size="12.5" text-anchor="middle" font-weight="bold">Survival (%)</text>
<text transform="translate(84.30 699.20) scale(0.8200 1)" font-size="13" text-anchor="middle">vehicle</text>
<text transform="translate(132.80 699.20) scale(0.8200 1)" font-size="13" text-anchor="middle">GMI-1271</text>
<text transform="translate(175.70 699.20) scale(0.8200 1)" font-size="13" text-anchor="middle">Lena</text>
<text transform="translate(222.40 699.20) scale(0.8200 1)" font-size="13" text-anchor="middle">Combo</text>
<!-- panelG -->
<text transform="translate(287.40 522.30) scale(0.9400 1)" font-size="18.5" font-weight="bold" fill="#000">G</text>
<line x1="356.70" y1="527.30" x2="356.70" y2="661.80" stroke="#c2c2c2" stroke-width="1"/>
<line x1="352.70" y1="661.80" x2="356.70" y2="661.80" stroke="#c2c2c2" stroke-width="1"/>
<text transform="translate(344.90 666.20) scale(0.8200 1)" font-size="13" text-anchor="end">0</text>
<line x1="352.70" y1="639.38" x2="356.70" y2="639.38" stroke="#c2c2c2" stroke-width="1"/>
<text transform="translate(344.90 643.78) scale(0.8200 1)" font-size="13" text-anchor="end">5000</text>
<line x1="352.70" y1="616.97" x2="356.70" y2="616.97" stroke="#c2c2c2" stroke-width="1"/>
<text transform="translate(344.90 621.37) scale(0.8200 1)" font-size="13" text-anchor="end">10000</text>
<line x1="352.70" y1="594.55" x2="356.70" y2="594.55" stroke="#c2c2c2" stroke-width="1"/>
<text transform="translate(344.90 598.95) scale(0.8200 1)" font-size="13" text-anchor="end">15000</text>
<line x1="352.70" y1="572.13" x2="356.70" y2="572.13" stroke="#c2c2c2" stroke-width="1"/>
<text transform="translate(344.90 576.53) scale(0.8200 1)" font-size="13" text-anchor="end">20000</text>
<line x1="352.70" y1="549.72" x2="356.70" y2="549.72" stroke="#c2c2c2" stroke-width="1"/>
<text transform="translate(344.90 554.12) scale(0.8200 1)" font-size="13" text-anchor="end">25000</text>
<line x1="352.70" y1="527.30" x2="356.70" y2="527.30" stroke="#c2c2c2" stroke-width="1"/>
<text transform="translate(344.90 531.70) scale(0.8200 1)" font-size="13" text-anchor="end">30000</text>
<line x1="356.70" y1="661.80" x2="579.00" y2="661.80" stroke="#c2c2c2" stroke-width="1"/>
<line x1="356.70" y1="661.80" x2="356.70" y2="665.80" stroke="#c2c2c2" stroke-width="1"/>
<line x1="412.20" y1="661.80" x2="412.20" y2="665.80" stroke="#c2c2c2" stroke-width="1"/>
<line x1="467.80" y1="661.80" x2="467.80" y2="665.80" stroke="#c2c2c2" stroke-width="1"/>
<line x1="523.40" y1="661.80" x2="523.40" y2="665.80" stroke="#c2c2c2" stroke-width="1"/>
<line x1="579.00" y1="661.80" x2="579.00" y2="665.80" stroke="#c2c2c2" stroke-width="1"/>
<path d="M482.60 635.70 L509.40 635.70 L509.40 648.90" fill="none" stroke="#e4e4e4" stroke-width="1"/>
<path d="M539.20 531.80 L565.20 531.80 L565.20 604.00" fill="none" stroke="#e4e4e4" stroke-width="1"/>
<rect x="366.50" y="661.35" width="9.05" height="0.45" fill="#c00000"/>
<rect x="375.55" y="661.35" width="9.05" height="0.45" fill="#00b050"/>
<rect x="384.60" y="661.35" width="9.05" height="0.45" fill="#ffc000"/>
<rect x="393.65" y="661.35" width="9.05" height="0.45" fill="#0070c0"/>
<rect x="422.10" y="660.45" width="9.05" height="1.35" fill="#c00000"/>
<rect x="431.15" y="660.68" width="9.05" height="1.12" fill="#00b050"/>
<rect x="440.20" y="660.68" width="9.05" height="1.12" fill="#ffc000"/>
<rect x="449.25" y="660.90" width="9.05" height="0.90" fill="#0070c0"/>
<line x1="482.32" y1="649.69" x2="482.32" y2="651.94" stroke="#d2d2d2" stroke-width="1"/>
<rect x="477.80" y="651.94" width="9.05" height="9.86" fill="#c00000"/>
<line x1="491.38" y1="653.28" x2="491.38" y2="654.63" stroke="#d2d2d2" stroke-width="1"/>
<rect x="486.85" y="654.63" width="9.05" height="7.17" fill="#00b050"/>
<line x1="500.42" y1="655.07" x2="500.42" y2="655.97" stroke="#d2d2d2" stroke-width="1"/>
<rect x="495.90" y="655.97" width="9.05" height="5.83" fill="#ffc000"/>
<line x1="509.47" y1="656.20" x2="509.47" y2="657.32" stroke="#d2d2d2" stroke-width="1"/>
<rect x="504.95" y="657.32" width="9.05" height="4.48" fill="#0070c0"/>
<line x1="538.02" y1="546.13" x2="538.02" y2="571.68" stroke="#d2d2d2" stroke-width="1"/>
<rect x="533.50" y="571.68" width="9.05" height="90.12" fill="#c00000"/>
<line x1="547.07" y1="589.62" x2="547.07" y2="606.21" stroke="#d2d2d2" stroke-width="1"/>
<rect x="542.55" y="606.21" width="9.05" height="55.59" fill="#00b050"/>
<line x1="556.12" y1="590.51" x2="556.12" y2="603.52" stroke="#d2d2d2" stroke-width="1"/>
<rect x="551.60" y="603.52" width="9.05" height="58.28" fill="#ffc000"/>
<line x1="565.17" y1="617.59" x2="565.17" y2="629.07" stroke="#d2d2d2" stroke-width="1"/>
<rect x="560.65" y="629.07" width="9.05" height="32.73" fill="#0070c0"/>
<text transform="translate(509.90 658.50) scale(0.8600 1)" font-size="9" text-anchor="middle" font-style="italic" fill="#222">*</text>
<text transform="translate(564.00 616.30) scale(0.8600 1)" font-size="9" text-anchor="middle" font-style="italic" fill="#222">*</text>
<line x1="366.50" y1="524.50" x2="375.60" y2="524.50" stroke="#c00000" stroke-width="2.6"/>
<text transform="translate(380.00 529.00) scale(0.8300 1)" font-size="13" font-weight="bold">vehicle</text>
<line x1="366.50" y1="540.15" x2="375.60" y2="540.15" stroke="#00b050" stroke-width="2.6"/>
<text transform="translate(380.00 544.65) scale(0.8300 1)" font-size="13" font-weight="bold">GMI-1271</text>
<line x1="366.50" y1="555.80" x2="375.60" y2="555.80" stroke="#ffc000" stroke-width="2.6"/>
<text transform="translate(380.00 560.30) scale(0.8300 1)" font-size="13" font-weight="bold">Lena</text>
<line x1="366.50" y1="571.45" x2="375.60" y2="571.45" stroke="#0070c0" stroke-width="2.6"/>
<text transform="translate(380.00 575.95) scale(0.8300 1)" font-size="13" font-weight="bold">Combo</text>
<text transform="translate(292.30 590.00) rotate(-90) scale(0.8448 1)" font-size="13" text-anchor="middle" font-weight="bold">Tumor growth</text>
<text transform="translate(308.00 590.00) rotate(-90) scale(0.8447 1)" font-size="13" text-anchor="middle" font-weight="bold">(normalized to Day0)</text>
<text transform="translate(384.60 681.00) scale(0.8200 1)" font-size="13" text-anchor="middle">0</text>
<text transform="translate(440.20 681.00) scale(0.8200 1)" font-size="13" text-anchor="middle">7</text>
<text transform="translate(495.80 681.00) scale(0.8200 1)" font-size="13" text-anchor="middle">14</text>
<text transform="translate(551.90 681.00) scale(0.8200 1)" font-size="13" text-anchor="middle">21</text>
<text transform="translate(466.90 693.50) scale(0.8351 1)" font-size="13" text-anchor="middle">Days post-treatment initiation</text>
<!-- panelH -->
<text transform="translate(1.10 734.90) scale(0.9400 1)" font-size="18.5" font-weight="bold" fill="#000">H</text>
<line x1="62.00" y1="741.00" x2="62.00" y2="875.00" stroke="#cfcfcf" stroke-width="1"/>
<line x1="58.30" y1="875.00" x2="62.00" y2="875.00" stroke="#cfcfcf" stroke-width="1"/>
<text transform="translate(51.50 879.40) scale(0.8200 1)" font-size="13" text-anchor="end">0</text>
<line x1="58.30" y1="852.67" x2="62.00" y2="852.67" stroke="#cfcfcf" stroke-width="1"/>
<text transform="translate(51.50 857.07) scale(0.8200 1)" font-size="13" text-anchor="end">20</text>
<line x1="58.30" y1="830.33" x2="62.00" y2="830.33" stroke="#cfcfcf" stroke-width="1"/>
<text transform="translate(51.50 834.73) scale(0.8200 1)" font-size="13" text-anchor="end">40</text>
<line x1="58.30" y1="808.00" x2="62.00" y2="808.00" stroke="#cfcfcf" stroke-width="1"/>
<text transform="translate(51.50 812.40) scale(0.8200 1)" font-size="13" text-anchor="end">60</text>
<line x1="58.30" y1="785.67" x2="62.00" y2="785.67" stroke="#cfcfcf" stroke-width="1"/>
<text transform="translate(51.50 790.07) scale(0.8200 1)" font-size="13" text-anchor="end">80</text>
<line x1="58.30" y1="763.33" x2="62.00" y2="763.33" stroke="#cfcfcf" stroke-width="1"/>
<text transform="translate(51.50 767.73) scale(0.8200 1)" font-size="13" text-anchor="end">100</text>
<line x1="58.30" y1="741.00" x2="62.00" y2="741.00" stroke="#cfcfcf" stroke-width="1"/>
<text transform="translate(51.50 745.40) scale(0.8200 1)" font-size="13" text-anchor="end">120</text>
<line x1="58.30" y1="875.00" x2="246.00" y2="875.00" stroke="#b0b0b0" stroke-width="1"/>
<path d="M173.80 791.00 L173.80 744.40 L233.40 744.40 L233.40 791.00" fill="none" stroke="#dedede" stroke-width="1"/>
<line x1="79.80" y1="759.98" x2="79.80" y2="763.33" stroke="#bababa" stroke-width="1"/>
<rect x="74.40" y="763.33" width="10.80" height="111.67" fill="#000"/>
<line x1="93.00" y1="759.42" x2="93.00" y2="763.33" stroke="#bababa" stroke-width="1"/>
<rect x="87.50" y="763.50" width="11.00" height="111.50" fill="#fff" stroke="#b0b0b0" stroke-width="1"/>
<line x1="126.80" y1="767.80" x2="126.80" y2="770.03" stroke="#bababa" stroke-width="1"/>
<rect x="121.40" y="770.03" width="10.80" height="104.97" fill="#000"/>
<line x1="140.00" y1="762.77" x2="140.00" y2="766.68" stroke="#bababa" stroke-width="1"/>
<rect x="134.50" y="766.50" width="11.00" height="108.50" fill="#fff" stroke="#b0b0b0" stroke-width="1"/>
<line x1="173.50" y1="797.39" x2="173.50" y2="800.18" stroke="#bababa" stroke-width="1"/>
<rect x="168.10" y="800.18" width="10.80" height="74.82" fill="#000"/>
<line x1="186.70" y1="760.54" x2="186.70" y2="768.92" stroke="#bababa" stroke-width="1"/>
<rect x="181.50" y="769.50" width="11.00" height="105.50" fill="#fff" stroke="#b0b0b0" stroke-width="1"/>
<line x1="220.60" y1="799.62" x2="220.60" y2="801.30" stroke="#bababa" stroke-width="1"/>
<rect x="215.20" y="801.30" width="10.80" height="73.70" fill="#000"/>
<line x1="233.80" y1="800.74" x2="233.80" y2="803.53" stroke="#bababa" stroke-width="1"/>
<rect x="228.50" y="803.50" width="11.00" height="71.50" fill="#fff" stroke="#b0b0b0" stroke-width="1"/>
<text transform="translate(186.70 756.90) scale(0.8600 1)" font-size="10" text-anchor="middle" font-style="italic" fill="#222">*</text>
<text transform="translate(233.80 801.20) scale(0.8600 1)" font-size="10" text-anchor="middle" font-style="italic" fill="#222">*</text>
<text transform="translate(30.00 808.50) rotate(-90) scale(0.8483 1)" font-size="12.5" text-anchor="middle" font-weight="bold">Survival (%)</text>
<text transform="translate(85.40 888.60) scale(0.8200 1)" font-size="13" text-anchor="middle">vehicle</text>
<text transform="translate(133.60 888.60) scale(0.8200 1)" font-size="13" text-anchor="middle">GMI-1271</text>
<text transform="translate(178.40 888.60) scale(0.8200 1)" font-size="13" text-anchor="middle">CFZ</text>
<text transform="translate(223.10 888.60) scale(0.8200 1)" font-size="13" text-anchor="middle">Combo</text>
<!-- panelI -->
<text transform="translate(287.60 736.00) scale(1.0000 1)" font-size="20" font-weight="bold" fill="#000">I</text>
<line x1="355.60" y1="728.30" x2="355.60" y2="862.80" stroke="#cdcdcd" stroke-width="1.2"/>
<line x1="355.10" y1="862.30" x2="576.90" y2="862.30" stroke="#cdcdcd" stroke-width="1.2"/>
<line x1="351.10" y1="862.30" x2="355.60" y2="862.30" stroke="#cdcdcd" stroke-width="1"/>
<text transform="translate(348.20 868.70) scale(0.8200 1)" font-size="13" text-anchor="end">0</text>
<line x1="351.10" y1="835.60" x2="355.60" y2="835.60" stroke="#cdcdcd" stroke-width="1"/>
<text transform="translate(348.20 842.00) scale(0.8200 1)" font-size="13" text-anchor="end">20</text>
<line x1="351.10" y1="808.90" x2="355.60" y2="808.90" stroke="#cdcdcd" stroke-width="1"/>
<text transform="translate(348.20 815.30) scale(0.8200 1)" font-size="13" text-anchor="end">40</text>
<line x1="351.10" y1="782.20" x2="355.60" y2="782.20" stroke="#cdcdcd" stroke-width="1"/>
<text transform="translate(348.20 788.60) scale(0.8200 1)" font-size="13" text-anchor="end">60</text>
<line x1="351.10" y1="755.50" x2="355.60" y2="755.50" stroke="#cdcdcd" stroke-width="1"/>
<text transform="translate(348.20 761.90) scale(0.8200 1)" font-size="13" text-anchor="end">80</text>
<line x1="351.10" y1="728.80" x2="355.60" y2="728.80" stroke="#cdcdcd" stroke-width="1"/>
<text transform="translate(348.20 735.20) scale(0.8200 1)" font-size="13" text-anchor="end">100</text>
<line x1="355.60" y1="862.30" x2="355.60" y2="866.80" stroke="#cdcdcd" stroke-width="1"/>
<text transform="translate(355.60 880.00) scale(0.8200 1)" font-size="13" text-anchor="middle">10</text>
<line x1="399.76" y1="862.30" x2="399.76" y2="866.80" stroke="#cdcdcd" stroke-width="1"/>
<text transform="translate(399.76 880.00) scale(0.8200 1)" font-size="13" text-anchor="middle">20</text>
<line x1="443.92" y1="862.30" x2="443.92" y2="866.80" stroke="#cdcdcd" stroke-width="1"/>
<text transform="translate(443.92 880.00) scale(0.8200 1)" font-size="13" text-anchor="middle">30</text>
<line x1="488.08" y1="862.30" x2="488.08" y2="866.80" stroke="#cdcdcd" stroke-width="1"/>
<text transform="translate(488.08 880.00) scale(0.8200 1)" font-size="13" text-anchor="middle">40</text>
<line x1="532.24" y1="862.30" x2="532.24" y2="866.80" stroke="#cdcdcd" stroke-width="1"/>
<text transform="translate(532.24 880.00) scale(0.8200 1)" font-size="13" text-anchor="middle">50</text>
<line x1="576.40" y1="862.30" x2="576.40" y2="866.80" stroke="#cdcdcd" stroke-width="1"/>
<text transform="translate(576.40 880.00) scale(0.8200 1)" font-size="13" text-anchor="middle">60</text>
<line x1="377.68" y1="862.30" x2="377.68" y2="864.80" stroke="#cdcdcd" stroke-width="1"/>
<line x1="421.84" y1="862.30" x2="421.84" y2="864.80" stroke="#cdcdcd" stroke-width="1"/>
<line x1="466.00" y1="862.30" x2="466.00" y2="864.80" stroke="#cdcdcd" stroke-width="1"/>
<line x1="510.16" y1="862.30" x2="510.16" y2="864.80" stroke="#cdcdcd" stroke-width="1"/>
<line x1="554.32" y1="862.30" x2="554.32" y2="864.80" stroke="#cdcdcd" stroke-width="1"/>
<path d="M355.50 728.50 L496.50 728.50 L496.50 742.50 L505.50 742.50 L505.50 782.50 L527.50 782.50 L527.50 795.50 L532.50 795.50 L532.50 808.50" fill="none" stroke="#fff" stroke-width="1.5" stroke-linejoin="miter"/>
<path d="M355.50 728.50 L496.50 728.50 L496.50 742.50 L505.50 742.50 L505.50 782.50 L527.50 782.50 L527.50 795.50 L532.50 795.50 L532.50 808.50" fill="none" stroke="#5aa0da" stroke-width="1.5" stroke-linejoin="miter"/>
<path d="M355.50 728.50 L466.50 728.50 L466.50 768.50 L474.50 768.50 L474.50 795.50 L501.50 795.50 L501.50 835.50 L505.50 835.50 L505.50 848.50 L523.50 848.50 L523.50 862.50" fill="none" stroke="#fff" stroke-width="1.5" stroke-linejoin="miter"/>
<path d="M355.50 728.50 L466.50 728.50 L466.50 768.50 L474.50 768.50 L474.50 795.50 L501.50 795.50 L501.50 835.50 L505.50 835.50 L505.50 848.50 L523.50 848.50 L523.50 862.50" fill="none" stroke="#ffd45a" stroke-width="1.5" stroke-linejoin="miter"/>
<path d="M355.50 728.50 L448.50 728.50 L448.50 742.50 L457.50 742.50 L457.50 755.50 L461.50 755.50 L461.50 768.50 L470.50 768.50 L470.50 795.50 L474.50 795.50 L474.50 835.50 L479.50 835.50 L479.50 862.50" fill="none" stroke="#fff" stroke-width="1.5" stroke-linejoin="miter"/>
<path d="M355.50 728.50 L448.50 728.50 L448.50 742.50 L457.50 742.50 L457.50 755.50 L461.50 755.50 L461.50 768.50 L470.50 768.50 L470.50 795.50 L474.50 795.50 L474.50 835.50 L479.50 835.50 L479.50 862.50" fill="none" stroke="#62ca92" stroke-width="1.5" stroke-linejoin="miter"/>
<path d="M355.50 728.50 L457.50 728.50 L457.50 768.50 L466.50 768.50 L466.50 782.50 L470.50 782.50 L470.50 795.50 L474.50 795.50 L474.50 862.50" fill="none" stroke="#fff" stroke-width="1.5" stroke-linejoin="miter"/>
<path d="M355.50 728.50 L457.50 728.50 L457.50 768.50 L466.50 768.50 L466.50 782.50 L470.50 782.50 L470.50 795.50 L474.50 795.50 L474.50 862.50" fill="none" stroke="#df7474" stroke-width="1.5" stroke-linejoin="miter"/>
<line x1="541.20" y1="748.10" x2="551.20" y2="748.10" stroke="#c00000" stroke-width="2.6"/>
<text transform="translate(554.50 752.30) scale(0.8400 1)" font-size="13" font-weight="bold">vehicle</text>
<line x1="541.20" y1="763.50" x2="551.20" y2="763.50" stroke="#00b050" stroke-width="2.6"/>
<text transform="translate(554.50 767.70) scale(0.8400 1)" font-size="13" font-weight="bold">GMI-1271</text>
<line x1="541.20" y1="779.40" x2="551.20" y2="779.40" stroke="#ffc000" stroke-width="2.6"/>
<text transform="translate(554.50 783.60) scale(0.8400 1)" font-size="13" font-weight="bold">CFZ</text>
<line x1="541.20" y1="795.30" x2="551.20" y2="795.30" stroke="#0070c0" stroke-width="2.6"/>
<text transform="translate(554.50 799.50) scale(0.8400 1)" font-size="13" font-weight="bold">Combo</text>
<text transform="translate(325.00 796.55) rotate(-90) scale(0.8303 1)" font-size="13" text-anchor="middle" font-weight="bold">Percent Survival</text>
<text transform="translate(467.30 893.50) scale(0.8318 1)" font-size="13" text-anchor="middle">Days post tumor injection</text>
<!-- panelJ -->
<text transform="translate(-3.00 926.80) scale(0.9400 1)" font-size="18.5" font-weight="bold" fill="#000">J</text>
<line x1="62.00" y1="928.70" x2="62.00" y2="1061.90" stroke="#cfcfcf" stroke-width="1"/>
<line x1="58.30" y1="1061.90" x2="62.00" y2="1061.90" stroke="#cfcfcf" stroke-width="1"/>
<text transform="translate(51.50 1066.30) scale(0.8200 1)" font-size="13" text-anchor="end">0</text>
<line x1="58.30" y1="1039.70" x2="62.00" y2="1039.70" stroke="#cfcfcf" stroke-width="1"/>
<text transform="translate(51.50 1044.10) scale(0.8200 1)" font-size="13" text-anchor="end">20</text>
<line x1="58.30" y1="1017.50" x2="62.00" y2="1017.50" stroke="#cfcfcf" stroke-width="1"/>
<text transform="translate(51.50 1021.90) scale(0.8200 1)" font-size="13" text-anchor="end">40</text>
<line x1="58.30" y1="995.30" x2="62.00" y2="995.30" stroke="#cfcfcf" stroke-width="1"/>
<text transform="translate(51.50 999.70) scale(0.8200 1)" font-size="13" text-anchor="end">60</text>
<line x1="58.30" y1="973.10" x2="62.00" y2="973.10" stroke="#cfcfcf" stroke-width="1"/>
<text transform="translate(51.50 977.50) scale(0.8200 1)" font-size="13" text-anchor="end">80</text>
<line x1="58.30" y1="950.90" x2="62.00" y2="950.90" stroke="#cfcfcf" stroke-width="1"/>
<text transform="translate(51.50 955.30) scale(0.8200 1)" font-size="13" text-anchor="end">100</text>
<line x1="58.30" y1="928.70" x2="62.00" y2="928.70" stroke="#cfcfcf" stroke-width="1"/>
<text transform="translate(51.50 933.10) scale(0.8200 1)" font-size="13" text-anchor="end">120</text>
<line x1="58.30" y1="1061.90" x2="246.00" y2="1061.90" stroke="#b0b0b0" stroke-width="1"/>
<path d="M168.90 978.00 L168.90 930.60 L228.50 930.60 L228.50 977.00" fill="none" stroke="#dedede" stroke-width="1"/>
<line x1="79.00" y1="947.57" x2="79.00" y2="950.90" stroke="#bababa" stroke-width="1"/>
<rect x="73.60" y="950.90" width="10.80" height="111.00" fill="#000"/>
<line x1="91.80" y1="947.02" x2="91.80" y2="950.90" stroke="#bababa" stroke-width="1"/>
<rect x="86.50" y="951.50" width="11.00" height="110.40" fill="#fff" stroke="#b0b0b0" stroke-width="1"/>
<line x1="124.60" y1="953.68" x2="124.60" y2="958.67" stroke="#bababa" stroke-width="1"/>
<rect x="119.20" y="958.67" width="10.80" height="103.23" fill="#000"/>
<line x1="137.40" y1="946.46" x2="137.40" y2="956.45" stroke="#bababa" stroke-width="1"/>
<rect x="131.50" y="956.50" width="11.00" height="105.40" fill="#fff" stroke="#b0b0b0" stroke-width="1"/>
<line x1="170.10" y1="984.76" x2="170.10" y2="987.53" stroke="#bababa" stroke-width="1"/>
<rect x="164.70" y="987.53" width="10.80" height="74.37" fill="#000"/>
<line x1="182.90" y1="948.12" x2="182.90" y2="956.45" stroke="#bababa" stroke-width="1"/>
<rect x="177.50" y="956.50" width="11.00" height="105.40" fill="#fff" stroke="#b0b0b0" stroke-width="1"/>
<line x1="215.60" y1="1003.63" x2="215.60" y2="1005.85" stroke="#bababa" stroke-width="1"/>
<rect x="210.20" y="1005.85" width="10.80" height="56.06" fill="#000"/>
<line x1="228.40" y1="985.87" x2="228.40" y2="989.75" stroke="#bababa" stroke-width="1"/>
<rect x="222.50" y="989.50" width="11.00" height="72.40" fill="#fff" stroke="#b0b0b0" stroke-width="1"/>
<text transform="translate(181.40 942.90) scale(0.8600 1)" font-size="10" text-anchor="middle" font-style="italic" fill="#222">*</text>
<text transform="translate(227.70 986.90) scale(0.9800 1)" font-size="10" text-anchor="middle" font-style="italic" fill="#222">**</text>
<text transform="translate(30.00 995.80) rotate(-90) scale(0.8483 1)" font-size="12.5" text-anchor="middle" font-weight="bold">Survival (%)</text>
<text transform="translate(83.90 1076.00) scale(0.8200 1)" font-size="13" text-anchor="middle">vehicle</text>
<text transform="translate(129.80 1076.00) scale(0.8200 1)" font-size="13" text-anchor="middle">GMI-1359</text>
<text transform="translate(177.20 1076.00) scale(0.8200 1)" font-size="13" text-anchor="middle">CFZ</text>
<text transform="translate(219.00 1076.00) scale(0.8200 1)" font-size="13" text-anchor="middle">Combo</text>
<!-- panelK -->
<text transform="translate(288.50 928.00) scale(1.0000 1)" font-size="18.5" font-weight="bold" fill="#000">K</text>
<line x1="355.60" y1="922.50" x2="355.60" y2="1056.70" stroke="#a6a6a6" stroke-width="1.2"/>
<line x1="355.10" y1="1056.20" x2="576.50" y2="1056.20" stroke="#a6a6a6" stroke-width="1.2"/>
<line x1="351.10" y1="1056.20" x2="357.10" y2="1056.20" stroke="#a6a6a6" stroke-width="1"/>
<text transform="translate(348.80 1064.40) scale(0.8200 1)" font-size="13" text-anchor="end">0</text>
<line x1="351.10" y1="1029.56" x2="357.10" y2="1029.56" stroke="#a6a6a6" stroke-width="1"/>
<text transform="translate(348.80 1037.76) scale(0.8200 1)" font-size="13" text-anchor="end">20</text>
<line x1="351.10" y1="1002.92" x2="357.10" y2="1002.92" stroke="#a6a6a6" stroke-width="1"/>
<text transform="translate(348.80 1011.12) scale(0.8200 1)" font-size="13" text-anchor="end">40</text>
<line x1="351.10" y1="976.28" x2="357.10" y2="976.28" stroke="#a6a6a6" stroke-width="1"/>
<text transform="translate(348.80 984.48) scale(0.8200 1)" font-size="13" text-anchor="end">60</text>
<line x1="351.10" y1="949.64" x2="357.10" y2="949.64" stroke="#a6a6a6" stroke-width="1"/>
<text transform="translate(348.80 957.84) scale(0.8200 1)" font-size="13" text-anchor="end">80</text>
<line x1="351.10" y1="923.00" x2="357.10" y2="923.00" stroke="#a6a6a6" stroke-width="1"/>
<text transform="translate(348.80 931.20) scale(0.8200 1)" font-size="13" text-anchor="end">100</text>
<line x1="353.10" y1="1049.54" x2="356.60" y2="1049.54" stroke="#a6a6a6" stroke-width="1"/>
<line x1="353.10" y1="1042.88" x2="356.60" y2="1042.88" stroke="#a6a6a6" stroke-width="1"/>
<line x1="353.10" y1="1036.22" x2="356.60" y2="1036.22" stroke="#a6a6a6" stroke-width="1"/>
<line x1="353.10" y1="1022.90" x2="356.60" y2="1022.90" stroke="#a6a6a6" stroke-width="1"/>
<line x1="353.10" y1="1016.24" x2="356.60" y2="1016.24" stroke="#a6a6a6" stroke-width="1"/>
<line x1="353.10" y1="1009.58" x2="356.60" y2="1009.58" stroke="#a6a6a6" stroke-width="1"/>
<line x1="353.10" y1="996.26" x2="356.60" y2="996.26" stroke="#a6a6a6" stroke-width="1"/>
<line x1="353.10" y1="989.60" x2="356.60" y2="989.60" stroke="#a6a6a6" stroke-width="1"/>
<line x1="353.10" y1="982.94" x2="356.60" y2="982.94" stroke="#a6a6a6" stroke-width="1"/>
<line x1="353.10" y1="969.62" x2="356.60" y2="969.62" stroke="#a6a6a6" stroke-width="1"/>
<line x1="353.10" y1="962.96" x2="356.60" y2="962.96" stroke="#a6a6a6" stroke-width="1"/>
<line x1="353.10" y1="956.30" x2="356.60" y2="956.30" stroke="#a6a6a6" stroke-width="1"/>
<line x1="353.10" y1="942.98" x2="356.60" y2="942.98" stroke="#a6a6a6" stroke-width="1"/>
<line x1="353.10" y1="936.32" x2="356.60" y2="936.32" stroke="#a6a6a6" stroke-width="1"/>
<line x1="353.10" y1="929.66" x2="356.60" y2="929.66" stroke="#a6a6a6" stroke-width="1"/>
<line x1="355.60" y1="1053.70" x2="355.60" y2="1060.70" stroke="#a6a6a6" stroke-width="1"/>
<text transform="translate(355.60 1074.00) scale(0.8200 1)" font-size="13" text-anchor="middle">20</text>
<line x1="377.64" y1="1053.70" x2="377.64" y2="1060.70" stroke="#a6a6a6" stroke-width="1"/>
<text transform="translate(377.64 1074.00) scale(0.8200 1)" font-size="13" text-anchor="middle">25</text>
<line x1="399.68" y1="1053.70" x2="399.68" y2="1060.70" stroke="#a6a6a6" stroke-width="1"/>
<text transform="translate(399.68 1074.00) scale(0.8200 1)" font-size="13" text-anchor="middle">30</text>
<line x1="421.72" y1="1053.70" x2="421.72" y2="1060.70" stroke="#a6a6a6" stroke-width="1"/>
<text transform="translate(421.72 1074.00) scale(0.8200 1)" font-size="13" text-anchor="middle">35</text>
<line x1="443.76" y1="1053.70" x2="443.76" y2="1060.70" stroke="#a6a6a6" stroke-width="1"/>
<text transform="translate(443.76 1074.00) scale(0.8200 1)" font-size="13" text-anchor="middle">40</text>
<line x1="465.80" y1="1053.70" x2="465.80" y2="1060.70" stroke="#a6a6a6" stroke-width="1"/>
<text transform="translate(465.80 1074.00) scale(0.8200 1)" font-size="13" text-anchor="middle">45</text>
<line x1="487.84" y1="1053.70" x2="487.84" y2="1060.70" stroke="#a6a6a6" stroke-width="1"/>
<text transform="translate(487.84 1074.00) scale(0.8200 1)" font-size="13" text-anchor="middle">50</text>
<line x1="509.88" y1="1053.70" x2="509.88" y2="1060.70" stroke="#a6a6a6" stroke-width="1"/>
<text transform="translate(509.88 1074.00) scale(0.8200 1)" font-size="13" text-anchor="middle">55</text>
<line x1="531.92" y1="1053.70" x2="531.92" y2="1060.70" stroke="#a6a6a6" stroke-width="1"/>
<text transform="translate(531.92 1074.00) scale(0.8200 1)" font-size="13" text-anchor="middle">60</text>
<line x1="553.96" y1="1053.70" x2="553.96" y2="1060.70" stroke="#a6a6a6" stroke-width="1"/>
<text transform="translate(553.96 1074.00) scale(0.8200 1)" font-size="13" text-anchor="middle">65</text>
<line x1="576.00" y1="1053.70" x2="576.00" y2="1060.70" stroke="#a6a6a6" stroke-width="1"/>
<text transform="translate(576.00 1074.00) scale(0.8200 1)" font-size="13" text-anchor="middle">70</text>
<line x1="366.62" y1="1054.70" x2="366.62" y2="1058.70" stroke="#a6a6a6" stroke-width="1"/>
<line x1="388.66" y1="1054.70" x2="388.66" y2="1058.70" stroke="#a6a6a6" stroke-width="1"/>
<line x1="410.70" y1="1054.70" x2="410.70" y2="1058.70" stroke="#a6a6a6" stroke-width="1"/>
<line x1="432.74" y1="1054.70" x2="432.74" y2="1058.70" stroke="#a6a6a6" stroke-width="1"/>
<line x1="454.78" y1="1054.70" x2="454.78" y2="1058.70" stroke="#a6a6a6" stroke-width="1"/>
<line x1="476.82" y1="1054.70" x2="476.82" y2="1058.70" stroke="#a6a6a6" stroke-width="1"/>
<line x1="498.86" y1="1054.70" x2="498.86" y2="1058.70" stroke="#a6a6a6" stroke-width="1"/>
<line x1="520.90" y1="1054.70" x2="520.90" y2="1058.70" stroke="#a6a6a6" stroke-width="1"/>
<line x1="542.94" y1="1054.70" x2="542.94" y2="1058.70" stroke="#a6a6a6" stroke-width="1"/>
<line x1="564.98" y1="1054.70" x2="564.98" y2="1058.70" stroke="#a6a6a6" stroke-width="1"/>
<path d="M355.50 923.50 L382.50 923.50 L382.50 936.50 L439.50 936.50 L439.50 949.50 L452.50 949.50 L452.50 962.50 L483.50 962.50 L483.50 1002.50 L567.50 1002.50 L567.50 1016.50 L576.50 1016.50" fill="none" stroke="#fff" stroke-width="1.5" stroke-linejoin="miter"/>
<path d="M355.50 923.50 L382.50 923.50 L382.50 936.50 L439.50 936.50 L439.50 949.50 L452.50 949.50 L452.50 962.50 L483.50 962.50 L483.50 1002.50 L567.50 1002.50 L567.50 1016.50 L576.50 1016.50" fill="none" stroke="#5aa0da" stroke-width="1.5" stroke-linejoin="miter"/>
<path d="M355.50 923.50 L421.50 923.50 L421.50 936.50 L426.50 936.50 L426.50 962.50 L434.50 962.50 L434.50 989.50 L439.50 989.50 L439.50 1016.50 L443.50 1016.50 L443.50 1029.50 L509.50 1029.50 L509.50 1042.50 L540.50 1042.50 L540.50 1056.50" fill="none" stroke="#fff" stroke-width="1.5" stroke-linejoin="miter"/>
<path d="M355.50 923.50 L421.50 923.50 L421.50 936.50 L426.50 936.50 L426.50 962.50 L434.50 962.50 L434.50 989.50 L439.50 989.50 L439.50 1016.50 L443.50 1016.50 L443.50 1029.50 L509.50 1029.50 L509.50 1042.50 L540.50 1042.50 L540.50 1056.50" fill="none" stroke="#ffd45a" stroke-width="1.5" stroke-linejoin="miter"/>
<path d="M355.50 923.50 L399.50 923.50 L399.50 949.50 L404.50 949.50 L404.50 989.50 L417.50 989.50 L417.50 1016.50 L426.50 1016.50 L426.50 1042.50 L430.50 1042.50 L430.50 1056.50" fill="none" stroke="#fff" stroke-width="1.5" stroke-linejoin="miter"/>
<path d="M355.50 923.50 L399.50 923.50 L399.50 949.50 L404.50 949.50 L404.50 989.50 L417.50 989.50 L417.50 1016.50 L426.50 1016.50 L426.50 1042.50 L430.50 1042.50 L430.50 1056.50" fill="none" stroke="#62ca92" stroke-width="1.5" stroke-linejoin="miter"/>
<path d="M355.50 923.50 L399.50 923.50 L399.50 962.50 L404.50 962.50 L404.50 976.50 L417.50 976.50 L417.50 1016.50 L430.50 1016.50 L430.50 1056.50" fill="none" stroke="#fff" stroke-width="1.5" stroke-linejoin="miter"/>
<path d="M355.50 923.50 L399.50 923.50 L399.50 962.50 L404.50 962.50 L404.50 976.50 L417.50 976.50 L417.50 1016.50 L430.50 1016.50 L430.50 1056.50" fill="none" stroke="#ff6464" stroke-width="1.5" stroke-linejoin="miter"/>
<line x1="539.50" y1="940.60" x2="549.50" y2="940.60" stroke="#c00000" stroke-width="2.6"/>
<text transform="translate(552.80 944.80) scale(0.8400 1)" font-size="13" font-weight="bold">vehicle</text>
<line x1="539.50" y1="956.30" x2="549.50" y2="956.30" stroke="#00b050" stroke-width="2.6"/>
<text transform="translate(552.80 960.50) scale(0.8400 1)" font-size="13" font-weight="bold">GMI-1359</text>
<line x1="539.50" y1="972.00" x2="549.50" y2="972.00" stroke="#ffc000" stroke-width="2.6"/>
<text transform="translate(552.80 976.20) scale(0.8400 1)" font-size="13" font-weight="bold">CFZ</text>
<line x1="539.50" y1="988.40" x2="549.50" y2="988.40" stroke="#0070c0" stroke-width="2.6"/>
<text transform="translate(552.80 992.60) scale(0.8400 1)" font-size="13" font-weight="bold">Combo</text>
<text transform="translate(322.50 990.60) rotate(-90) scale(0.8303 1)" font-size="13" text-anchor="middle" font-weight="bold">Percent Survival</text>
<text transform="translate(464.50 1087.90) scale(0.7948 1)" font-size="13" text-anchor="middle">Days post tumor injection</text>
</svg>
</body></html>
